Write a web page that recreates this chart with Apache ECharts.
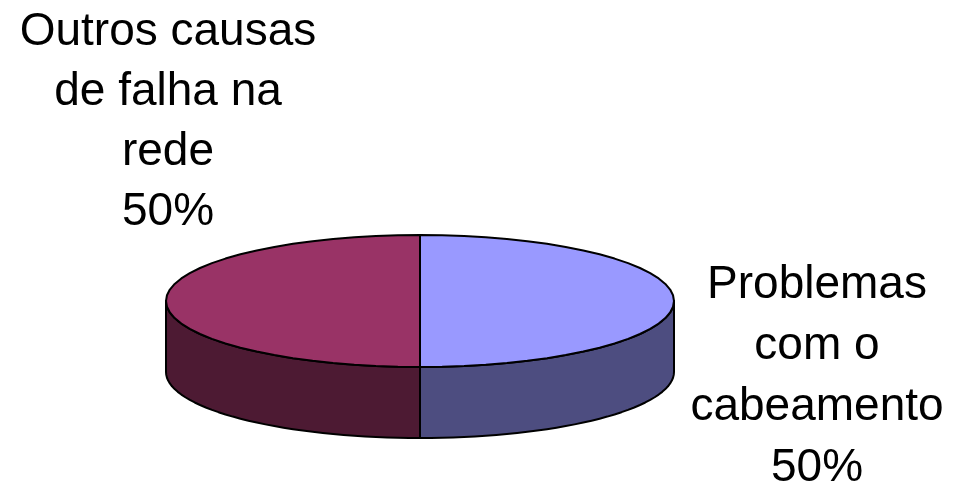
<!DOCTYPE html>
<html>
<head>
<meta charset="utf-8">
<style>html,body{margin:0;padding:0;background:#fff}#chart{width:960px;height:483px}</style>
<script src="https://cdn.jsdelivr.net/npm/echarts@6/dist/echarts.min.js"></script>
</head>
<body>
<div id="chart"></div>
<script>
// dados
const categories = ['Problemas\ncom o\ncabeamento', 'Outros causas\nde falha na\nrede'];
const values = [50, 50];
const topColors = ['#9999ff', '#993366'];
const sideColors = ['#4d4d80', '#4d1a33'];

const total = values.reduce((a, b) => a + b, 0);
const cx = 420, cy = 301, rx = 254, ry = 66, depth = 71;
const edge = { stroke: '#000', lineWidth: 2, lineJoin: 'round' };

function pt(a, dy) {
  return [cx + rx * Math.sin(a), cy - ry * Math.cos(a) + (dy || 0)];
}
function arc(a0, a1, dy) {
  const pts = [];
  const n = 36;
  for (let i = 0; i <= n; i++) pts.push(pt(a0 + (a1 - a0) * i / n, dy));
  return pts;
}

const chart = echarts.init(document.getElementById('chart'));

const slices = [];
let acc = 0;
values.forEach((v, i) => {
  const a0 = acc / total * 2 * Math.PI;
  acc += v;
  slices.push({ a0: a0, a1: acc / total * 2 * Math.PI, i: i, pct: Math.round(v / total * 100) });
});

function renderSlice(params, api) {
  const s = slices[api.value(0)];
  const children = [];
  // parede lateral so na metade de baixo da elipse
  const w0 = Math.max(s.a0, Math.PI / 2), w1 = Math.min(s.a1, 3 * Math.PI / 2);
  if (w1 > w0) {
    const front = arc(w0, w1, 0);
    const wall = front.concat(arc(w0, w1, depth).reverse());
    children.push({ type: 'polygon', shape: { points: wall }, style: Object.assign({ fill: sideColors[s.i] }, edge) });
  }
  children.push({
    type: 'polygon',
    shape: { points: [[cx, cy]].concat(arc(s.a0, s.a1, 0)) },
    style: Object.assign({ fill: topColors[s.i] }, edge)
  });
  return { type: 'group', children: children };
}

const labelFont = '46px "Liberation Sans"';

chart.setOption({
  animation: false,
  series: [{
    type: 'custom',
    coordinateSystem: 'none',
    renderItem: renderSlice,
    data: slices.map(s => [s.i])
  }],
  graphic: [
    { type: 'text', x: 168, y: 2, style: { text: categories[1] + '\n' + slices[1].pct + '%', font: labelFont, lineHeight: 60, fill: '#000', align: 'center', verticalAlign: 'top' } },
    { type: 'text', x: 817, y: 255, style: { text: categories[0] + '\n' + slices[0].pct + '%', font: labelFont, lineHeight: 61, fill: '#000', align: 'center', verticalAlign: 'top' } }
  ]
});
</script>
</body>
</html>
